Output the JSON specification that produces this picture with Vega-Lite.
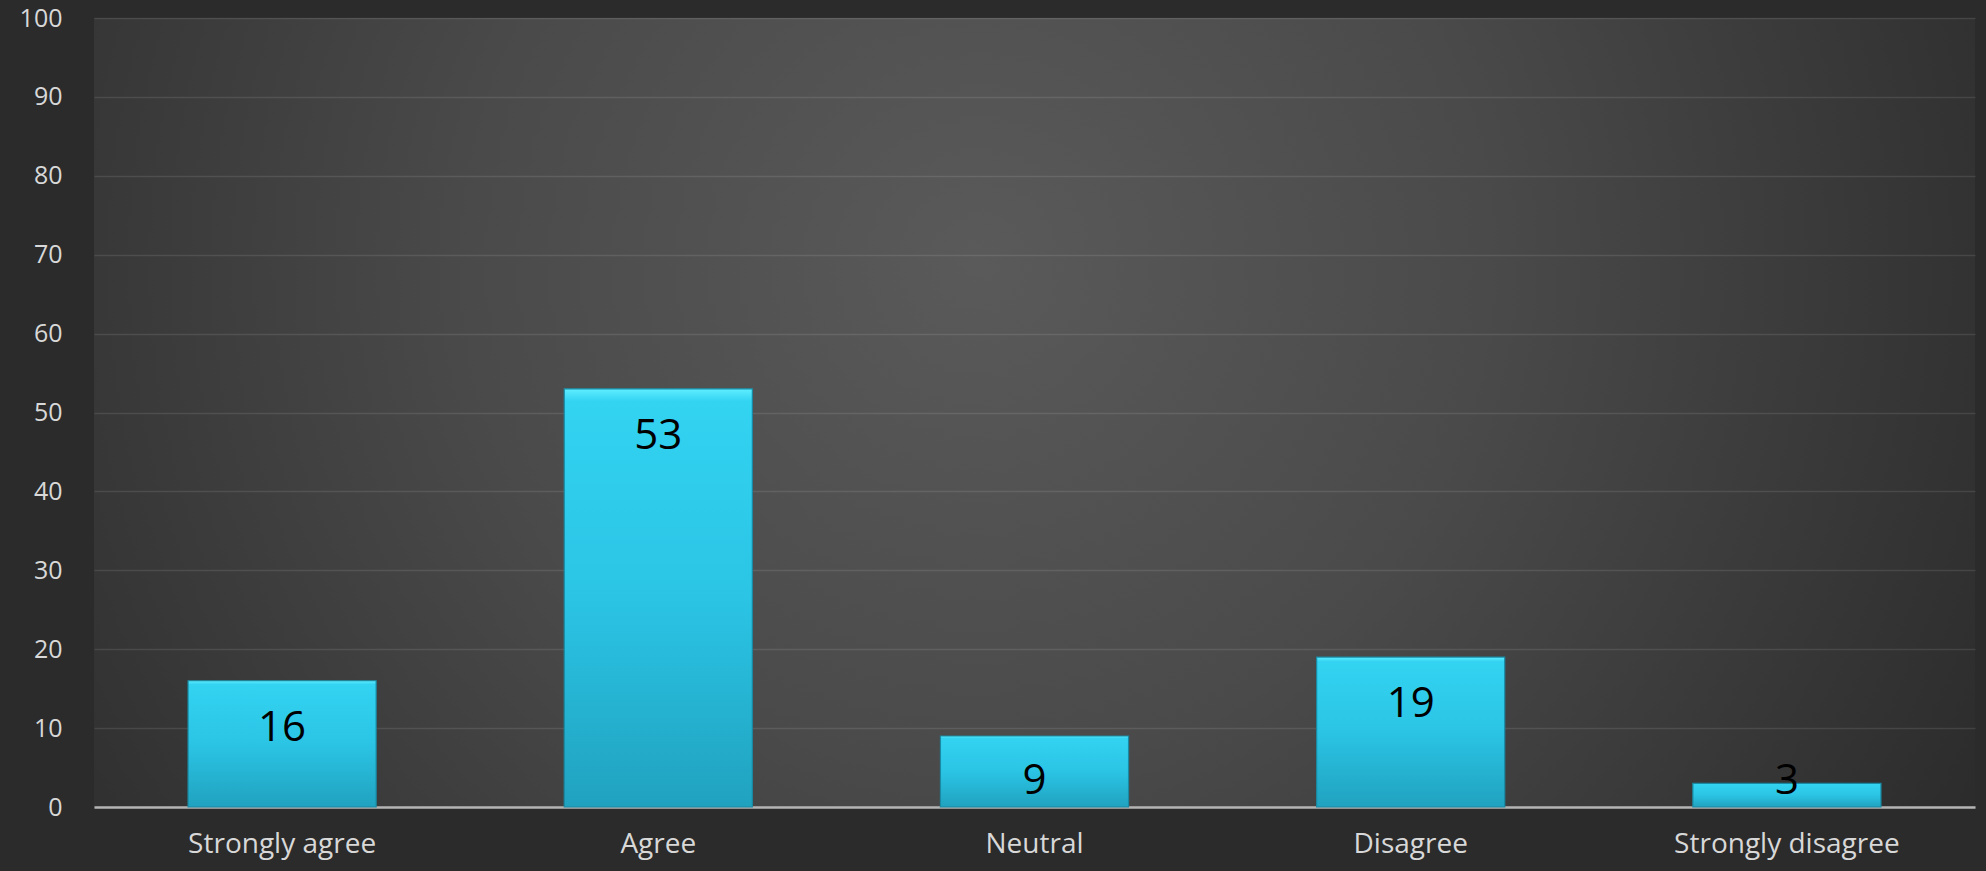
{
  "$schema": "https://vega.github.io/schema/vega-lite/v6.json",
  "width": 1881,
  "height": 789,
  "autosize": {"type": "none"},
  "padding": {"left": 94, "top": 18, "right": 11, "bottom": 64},
  "background": "#2b2b2b",
  "config": {
    "view": {
      "stroke": null,
      "fill": {
        "gradient": "radial",
        "x1": 0.47, "y1": 0.42, "r1": 0,
        "x2": 0.47, "y2": 0.42, "r2": 0.6,
        "stops": [
          {"offset": 0, "color": "#5a5a5a"},
          {"offset": 0.45, "color": "#4a4a4a"},
          {"offset": 1, "color": "#2c2c2c"}
        ]
      }
    },
    "font": "Open Sans"
  },
  "data": {
    "values": [
      {"response": "Strongly agree", "value": 16},
      {"response": "Agree", "value": 53},
      {"response": "Neutral", "value": 9},
      {"response": "Disagree", "value": 19},
      {"response": "Strongly disagree", "value": 3}
    ]
  },
  "encoding": {
    "x": {
      "field": "response",
      "type": "nominal",
      "sort": null,
      "scale": {"paddingInner": 0.5, "paddingOuter": 0.25},
      "axis": {
        "title": null,
        "labelAngle": 0,
        "labelFont": "Open Sans",
        "labelFontSize": 28,
        "labelLimit": 0,
        "labelColor": "#d8d8d8",
        "labelPadding": 23,
        "ticks": false,
        "domainColor": "#b4b4b4",
        "domainWidth": 2.5,
        "grid": false
      }
    }
  },
  "layer": [
    {
      "mark": {
        "type": "bar",
        "stroke": "#1a8aa4",
        "strokeWidth": 1.2,
        "fill": {
          "gradient": "linear",
          "x1": 0, "y1": 0, "x2": 0, "y2": 1,
          "stops": [
            {"offset": 0, "color": "#5feeff"},
            {"offset": 0.03, "color": "#33d3f2"},
            {"offset": 0.5, "color": "#2bc4e5"},
            {"offset": 1, "color": "#20a2bf"}
          ]
        }
      },
      "encoding": {
        "y": {
          "field": "value",
          "type": "quantitative",
          "scale": {"domain": [0, 100], "nice": false},
          "axis": {
            "title": null,
            "values": [0, 10, 20, 30, 40, 50, 60, 70, 80, 90, 100],
            "labelFont": "Open Sans",
            "labelFontSize": 25,
            "labelColor": "#d8d8d8",
            "labelPadding": 32,
            "ticks": false,
            "domain": false,
            "grid": true,
            "gridColor": "#ffffff",
            "gridOpacity": 0.1,
            "gridWidth": 1.6
          }
        }
      }
    },
    {
      "transform": [{"calculate": "max(datum.value, 9.3)", "as": "labelPos"}],
      "mark": {
        "type": "text",
        "baseline": "middle",
        "align": "center",
        "dy": 47,
        "fontSize": 42,
        "font": "Open Sans",
        "color": "#000000"
      },
      "encoding": {
        "y": {"field": "labelPos", "type": "quantitative", "scale": {"domain": [0, 100], "nice": false}},
        "text": {"field": "value", "type": "quantitative"}
      }
    }
  ]
}
